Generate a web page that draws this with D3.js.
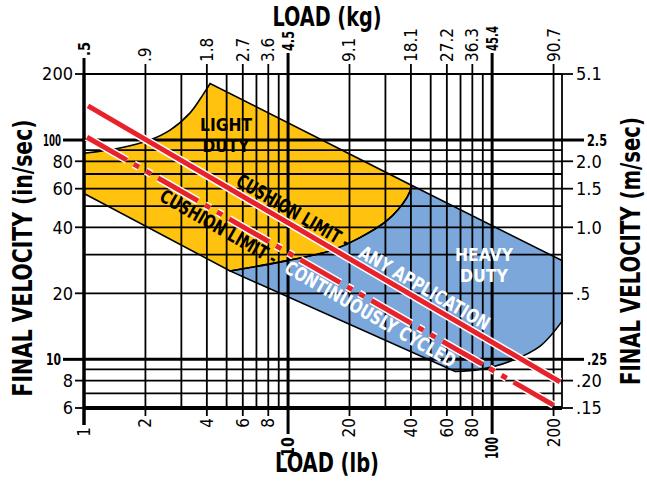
<!DOCTYPE html>
<html>
<head>
<meta charset="utf-8">
<script src="https://cdn.jsdelivr.net/npm/d3@7"></script>
<style>
body { margin: 0; background: #fff; }
text { font-family: "Liberation Sans Narrow", "DejaVu Sans Condensed", sans-serif; }
</style>
</head>
<body>
<div id="chart"></div>
<script>
var svgWidth = 647;
var svgHeight = 481;

// load (lb) grid, ticks and the matching kg labels on top
var lbGrid = [1, 2, 3, 4, 5, 6, 7, 8, 9, 10, 20, 30, 40, 50, 60, 70, 80, 90, 100, 200, 220];
var lbTicks = [1, 2, 4, 6, 8, 10, 20, 40, 60, 80, 100, 200];
var lbLabels = ["1", "2", "4", "6", "8", "10", "20", "40", "60", "80", "100", "200"];
var kgLabels = [".5", ".9", "1.8", "2.7", "3.6", "4.5", "9.1", "18.1", "27.2", "36.3", "45.4", "90.7"];

// velocity (in/sec) grid, ticks and the matching m/sec labels on the right
var velGrid = [6, 7, 8, 9, 10, 20, 30, 40, 50, 60, 70, 80, 90, 100, 200];
var velTicks = [200, 100, 80, 60, 40, 20, 10, 8, 6];
var velLabels = ["200", "100", "80", "60", "40", "20", "10", "8", "6"];
var msLabels = ["5.1", "2.5", "2.0", "1.5", "1.0", ".5", ".25", ".20", ".15"];

// region outlines, points as [lb, in/sec]
var lightTopCurve = [[1, 87], [1.5, 92], [2.1, 100], [2.64, 111], [3.31, 133], [3.83, 161], [4.15, 181]];
var dutyTopEdge = [[4.15, 181], [40.5, 62], [220, 28.2]];
var dutySplit = [[5.2, 25.3], [9.9, 28.2], [16.1, 31.3], [22.5, 35.9], [30.6, 43], [38.3, 54.8], [40.5, 62]];
var lightBottomLeft = [1, 57];
var heavyBottomCurve = [[220, 14.9], [172, 11.5], [122.5, 9.8], [87.3, 9.0], [65.9, 8.8]];

// cushion limit lines, [lb, in/sec]
var limitAny = [[1.046, 143], [215, 7.9]];
var limitCycled = [[1.034, 103], [215, 5.95]];

// widths of the bold (squeezed) tick labels
var boldWidth = {"100": 18, "10": 15, "2.5": 20, ".25": 20, ".5": 14, "4.5": 20, "45.4": 25};
var boldWidthBottom = {"10": 20, "100": 22};

var svg = d3.select("#chart")
    .append("svg")
    .attr("width", svgWidth)
    .attr("height", svgHeight);

var x = d3.scaleLog().domain([1, 220]).range([84, 562]);
var y = d3.scaleLog().domain([6, 200]).range([408, 74]);

var curve = d3.line().x(d => x(d[0])).y(d => y(d[1])).curve(d3.curveCatmullRom.alpha(0.5));
var pt = d => x(d[0]) + "," + y(d[1]);

// light duty area
var lightPath = curve(lightTopCurve)
    + "L" + pt(dutyTopEdge[1])
    + curve(dutySplit.slice().reverse()).replace(/^M/, "L")
    + "L" + pt(lightBottomLeft) + "Z";

// heavy duty area
var heavyPath = "M" + pt(dutyTopEdge[1])
    + "L" + pt(dutyTopEdge[2])
    + curve(heavyBottomCurve).replace(/^M/, "L")
    + curve(dutySplit).replace(/^M/, "L") + "Z";

svg.append("path").attr("d", lightPath).attr("fill", "#FFC20E");
svg.append("path").attr("d", heavyPath).attr("fill", "#7BA7DA");

// grid
svg.selectAll(".vgrid")
    .data(lbGrid)
    .enter()
    .append("line")
    .attr("x1", d => x(d)).attr("x2", d => x(d))
    .attr("y1", y(6)).attr("y2", y(200))
    .attr("stroke", "#000")
    .attr("stroke-width", d => d == 1 ? 3.5 : (d == 10 || d == 100) ? 3 : 1.8);

svg.selectAll(".hgrid")
    .data(velGrid)
    .enter()
    .append("line")
    .attr("x1", x(1)).attr("x2", x(220))
    .attr("y1", d => y(d)).attr("y2", d => y(d))
    .attr("stroke", "#000")
    .attr("stroke-width", d => d == 6 ? 4 : (d == 10 || d == 100) ? 3 : 1.8);

// region outlines
svg.append("path").attr("d", lightPath).attr("fill", "none").attr("stroke", "#000").attr("stroke-width", 1.6);
svg.append("path").attr("d", heavyPath).attr("fill", "none").attr("stroke", "#000").attr("stroke-width", 1.6);

// squeeze bold labels to the reference widths
function squeeze(sel, table) {
    sel.each(function () {
        var w = table[this.textContent];
        if (w) d3.select(this).attr("textLength", w).attr("lengthAdjust", "spacingAndGlyphs");
    });
}

// bottom ticks (lb)
var bottomAxis = svg.append("g");
bottomAxis.selectAll("line")
    .data(lbTicks)
    .enter()
    .append("line")
    .attr("x1", d => x(d)).attr("x2", d => x(d))
    .attr("y1", y(6))
    .attr("y2", d => y(6) + (d == 10 || d == 100 ? 26 : d == 1 ? 17 : 8))
    .attr("stroke", "#000")
    .attr("stroke-width", d => d == 10 || d == 100 ? 3 : d == 1 ? 3.5 : 1.8);
bottomAxis.selectAll("text")
    .data(lbTicks)
    .enter()
    .append("text")
    .attr("transform", d => `translate(${x(d)}, ${y(6) + (d == 10 || d == 100 ? 29 : d == 1 ? 19 : 10)}) rotate(-90)`)
    .attr("dy", "0.35em")
    .attr("text-anchor", "end")
    .attr("font-size", "17px")
    .attr("font-weight", d => d == 10 || d == 100 ? "bold" : "normal")
    .text((d, i) => lbLabels[i])
    .call(squeeze, boldWidthBottom);

// top ticks (kg)
var topAxis = svg.append("g");
var topLen = d => d == 10 || d == 100 ? 21 : d == 1 ? 16 : 10;
topAxis.selectAll("line")
    .data(lbTicks)
    .enter()
    .append("line")
    .attr("x1", d => x(d)).attr("x2", d => x(d))
    .attr("y1", y(200))
    .attr("y2", d => y(200) - topLen(d))
    .attr("stroke", "#000")
    .attr("stroke-width", d => d == 10 || d == 100 || d == 1 ? 3 : 1.8);
topAxis.selectAll("text")
    .data(lbTicks)
    .enter()
    .append("text")
    .attr("transform", d => `translate(${x(d)}, ${y(200) - topLen(d) - 2}) rotate(-90)`)
    .attr("dy", "0.35em")
    .attr("text-anchor", "start")
    .attr("font-size", d => d == 10 || d == 100 || d == 1 ? "16px" : "17px")
    .attr("font-weight", d => d == 10 || d == 100 || d == 1 ? "bold" : "normal")
    .text((d, i) => kgLabels[i])
    .call(squeeze, boldWidth);

// left ticks (in/sec)
var sideLen = d => d == 10 || d == 100 ? 21 : 9;
var leftAxis = svg.append("g");
leftAxis.selectAll("line")
    .data(velTicks)
    .enter()
    .append("line")
    .attr("x1", x(1)).attr("x2", d => x(1) - sideLen(d))
    .attr("y1", d => y(d)).attr("y2", d => y(d))
    .attr("stroke", "#000")
    .attr("stroke-width", d => d == 10 || d == 100 ? 3 : 1.8);
leftAxis.selectAll("text")
    .data(velTicks)
    .enter()
    .append("text")
    .attr("x", d => x(1) - sideLen(d) - 2)
    .attr("y", d => y(d))
    .attr("dy", "0.35em")
    .attr("text-anchor", "end")
    .attr("font-size", d => d == 10 || d == 100 ? "16px" : "18px")
    .attr("font-weight", d => d == 10 || d == 100 ? "bold" : "normal")
    .text((d, i) => velLabels[i])
    .call(squeeze, boldWidth);

// right ticks (m/sec)
var rightAxis = svg.append("g");
var rightLen = d => d == 10 || d == 100 ? 22 : 11;
rightAxis.selectAll("line")
    .data(velTicks)
    .enter()
    .append("line")
    .attr("x1", x(220)).attr("x2", d => x(220) + rightLen(d))
    .attr("y1", d => y(d)).attr("y2", d => y(d))
    .attr("stroke", "#000")
    .attr("stroke-width", d => d == 10 || d == 100 ? 3 : 1.8);
rightAxis.selectAll("text")
    .data(velTicks)
    .enter()
    .append("text")
    .attr("x", d => x(220) + rightLen(d) + 3)
    .attr("y", d => y(d))
    .attr("dy", "0.35em")
    .attr("text-anchor", "start")
    .attr("font-size", d => d == 10 || d == 100 ? "16px" : "18px")
    .attr("font-weight", d => d == 10 || d == 100 ? "bold" : "normal")
    .text((d, i) => msLabels[i])
    .call(squeeze, boldWidth);

// cushion limit lines
var lineGen = d3.line().x(d => x(d[0])).y(d => y(d[1]));
var dash = "46,8,6,8,6,8";
svg.append("path").attr("d", lineGen(limitAny)).attr("stroke", "#fff").attr("stroke-width", 8).attr("fill", "none");
svg.append("path").attr("d", lineGen(limitAny)).attr("stroke", "#E8222B").attr("stroke-width", 5).attr("fill", "none");
svg.append("path").attr("d", lineGen(limitCycled)).attr("stroke", "#fff").attr("stroke-width", 8).attr("fill", "none").attr("stroke-dasharray", dash);
svg.append("path").attr("d", lineGen(limitCycled)).attr("stroke", "#E8222B").attr("stroke-width", 5).attr("fill", "none").attr("stroke-dasharray", dash);

// labels that follow a limit line
function alongLine(limit, lb, dy, str, color, len) {
    var x1 = x(limit[0][0]), y1 = y(limit[0][1]);
    var x2 = x(limit[1][0]), y2 = y(limit[1][1]);
    var slope = (y2 - y1) / (x2 - x1);
    var ang = Math.atan(slope) * 180 / Math.PI;
    var px = x(lb), py = y1 + (px - x1) * slope;
    svg.append("text")
        .attr("transform", `translate(${px}, ${py}) rotate(${ang})`)
        .attr("y", dy)
        .attr("font-size", "19px")
        .attr("font-weight", "bold")
        .attr("fill", color)
        .attr("textLength", len)
        .attr("lengthAdjust", "spacingAndGlyphs")
        .text(str);
}
alongLine(limitAny, 5.3, -6, "CUSHION LIMIT -", "#000", 128);
alongLine(limitAny, 21.1, -6, "ANY APPLICATION", "#fff", 148);
alongLine(limitCycled, 2.57, 19, "CUSHION LIMIT -", "#000", 132);
alongLine(limitCycled, 10.5, 19, "CONTINUOUSLY CYCLED", "#fff", 194);

// region names, two lines each
function twoLines(cx, y1, lines, widths, color) {
    lines.forEach((s, i) => {
        svg.append("text")
            .attr("x", cx)
            .attr("y", y1 + i * 21)
            .attr("text-anchor", "middle")
            .attr("font-size", "18px")
            .attr("font-weight", "bold")
            .attr("fill", color)
            .attr("textLength", widths[i])
            .attr("lengthAdjust", "spacingAndGlyphs")
            .text(s);
    });
}
twoLines(226, 131, ["LIGHT", "DUTY"], [52, 47], "#000");
twoLines(484, 261, ["HEAVY", "DUTY"], [58, 48], "#fff");

// axis titles
svg.append("text").attr("x", 327).attr("y", 26).attr("text-anchor", "middle")
    .attr("font-size", "27px").attr("font-weight", "bold").attr("textLength", 109).attr("lengthAdjust", "spacingAndGlyphs").text("LOAD (kg)");
svg.append("text").attr("x", 327).attr("y", 472).attr("text-anchor", "middle")
    .attr("font-size", "27px").attr("font-weight", "bold").attr("textLength", 104).attr("lengthAdjust", "spacingAndGlyphs").text("LOAD (lb)");
svg.append("text").attr("transform", "translate(32, 258) rotate(-90)").attr("text-anchor", "middle")
    .attr("font-size", "26px").attr("font-weight", "bold").attr("textLength", 277).attr("lengthAdjust", "spacingAndGlyphs").text("FINAL VELOCITY (in/sec)");
svg.append("text").attr("transform", "translate(640, 251) rotate(-90)").attr("text-anchor", "middle")
    .attr("font-size", "26px").attr("font-weight", "bold").attr("textLength", 268).attr("lengthAdjust", "spacingAndGlyphs").text("FINAL VELOCITY (m/sec)");
</script>
</body>
</html>
